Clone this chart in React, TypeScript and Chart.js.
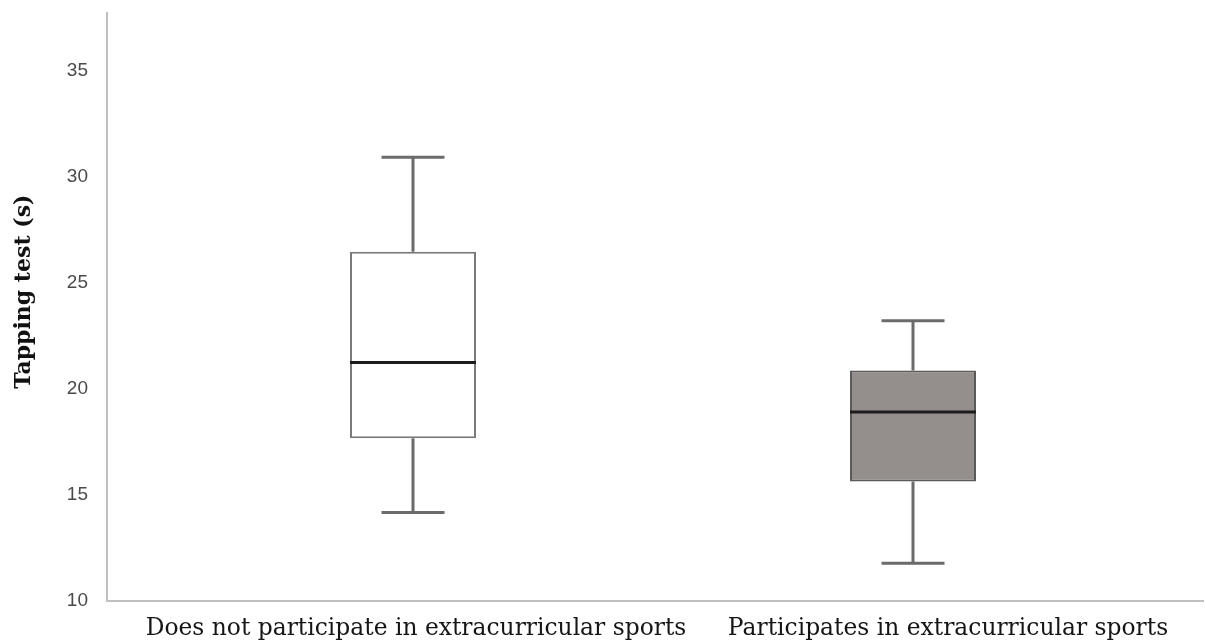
import React, { useEffect, useRef } from "react";
import { Chart, registerables } from "chart.js";

Chart.register(...registerables);

const categories = [
  "Does not participate in extracurricular sports",
  "Participates in extracurricular sports",
];
const positions = [1, 2];
const whiskerMin = [14.17, 11.78];
const quartile1 = [17.67, 15.63];
const medians = [21.24, 18.9];
const quartile3 = [26.45, 20.86];
const whiskerMax = [30.9, 23.2];
const yTicks = [10, 15, 20, 25, 30, 35];

const boxFills = ["#ffffff", "#948f8d"];
const boxBorders = ["#7a7a7a", "#5a5a5a"];

// where the category labels sit along the x axis (label 2 is set a little right of its box, as in the source)
const labelTickValues = [1.006, 2.07];

const whiskerPlugin = {
  id: "whiskers",
  afterDatasetsDraw(chart: any) {
    const ctx = chart.ctx;
    const xs = chart.scales.x;
    const ys = chart.scales.y;
    const meta = chart.getDatasetMeta(0);
    ctx.save();
    positions.forEach((p, i) => {
      const cx = xs.getPixelForValue(p);
      const bar = meta.data[i];
      const half = bar ? bar.width / 2 : 60;
      const capHalf = half / 2;
      const yMin = ys.getPixelForValue(whiskerMin[i]);
      const yQ1 = ys.getPixelForValue(quartile1[i]);
      const yMed = ys.getPixelForValue(medians[i]);
      const yQ3 = ys.getPixelForValue(quartile3[i]);
      const yMax = ys.getPixelForValue(whiskerMax[i]);
      ctx.strokeStyle = "#6b6b6b";
      ctx.lineWidth = 3;
      ctx.lineCap = "butt";
      ctx.beginPath();
      ctx.moveTo(cx, yQ3);
      ctx.lineTo(cx, yMax);
      ctx.moveTo(cx - capHalf, yMax);
      ctx.lineTo(cx + capHalf, yMax);
      ctx.moveTo(cx, yQ1);
      ctx.lineTo(cx, yMin);
      ctx.moveTo(cx - capHalf, yMin);
      ctx.lineTo(cx + capHalf, yMin);
      ctx.stroke();
      ctx.strokeStyle = "#1c1c1c";
      ctx.lineWidth = 3;
      ctx.beginPath();
      ctx.moveTo(cx - half, yMed);
      ctx.lineTo(cx + half, yMed);
      ctx.stroke();
    });
    ctx.restore();
  },
};

export default function App() {
  const ref = useRef<HTMLCanvasElement | null>(null);
  useEffect(() => {
    document.body.style.margin = "0";
    if (!ref.current) return;
    const chart = new Chart(ref.current, {
      type: "bar",
      data: {
        datasets: [
          {
            data: positions.map((p, i) => ({ x: p, y: [quartile1[i], quartile3[i]] })) as any,
            backgroundColor: boxFills,
            borderColor: boxBorders,
            borderWidth: 2,
            borderSkipped: false,
            categoryPercentage: 1,
            barPercentage: 0.252,
          },
        ],
      },
      options: {
        animation: false,
        responsive: true,
        maintainAspectRatio: false,
        layout: { padding: { top: 13, right: 3, left: 0, bottom: 0 } },
        plugins: { legend: { display: false }, tooltip: { enabled: false } },
        scales: {
          x: {
            type: "linear",
            offset: false,
            min: 0.388,
            max: 2.58,
            grid: { display: false, drawTicks: false },
            border: { display: true, color: "#c0c0c0", width: 2 },
            afterBuildTicks: (scale: any) => {
              scale.ticks = labelTickValues.map((v) => ({ value: v }));
            },
            afterFit: (scale: any) => {
              scale.height = 42;
              scale.paddingLeft = 0;
              scale.paddingRight = 0;
            },
            ticks: {
              padding: 14,
              autoSkip: false,
              maxRotation: 0,
              color: "#151515",
              font: { family: "'DejaVu Serif', serif", size: 23.4 },
              callback: (v: any) => {
                const idx = labelTickValues.indexOf(Number(v));
                return idx >= 0 ? categories[idx] : "";
              },
            },
          },
          y: {
            type: "linear",
            min: 10,
            max: 37.7,
            grid: { display: false, drawTicks: false },
            border: { display: true, color: "#c0c0c0", width: 2 },
            afterBuildTicks: (scale: any) => {
              scale.ticks = yTicks.map((v) => ({ value: v }));
            },
            afterFit: (scale: any) => {
              scale.width = 107;
              scale.paddingTop = 0;
              scale.paddingBottom = 0;
            },
            ticks: {
              padding: 19,
              color: "#4a4a4a",
              font: { family: "'Liberation Sans', Arial, sans-serif", size: 19 },
            },
            title: {
              display: true,
              text: "    Tapping test (s)",
              color: "#111111",
              padding: { top: 11, bottom: 0 },
              font: { family: "'DejaVu Serif', serif", size: 22, weight: "bold" },
            },
          },
        },
      },
      plugins: [whiskerPlugin],
    });
    return () => chart.destroy();
  }, []);
  return (
    <div style={{ position: "fixed", left: 0, top: 0, width: 1206, height: 643 }}>
      <canvas ref={ref} />
    </div>
  );
}
